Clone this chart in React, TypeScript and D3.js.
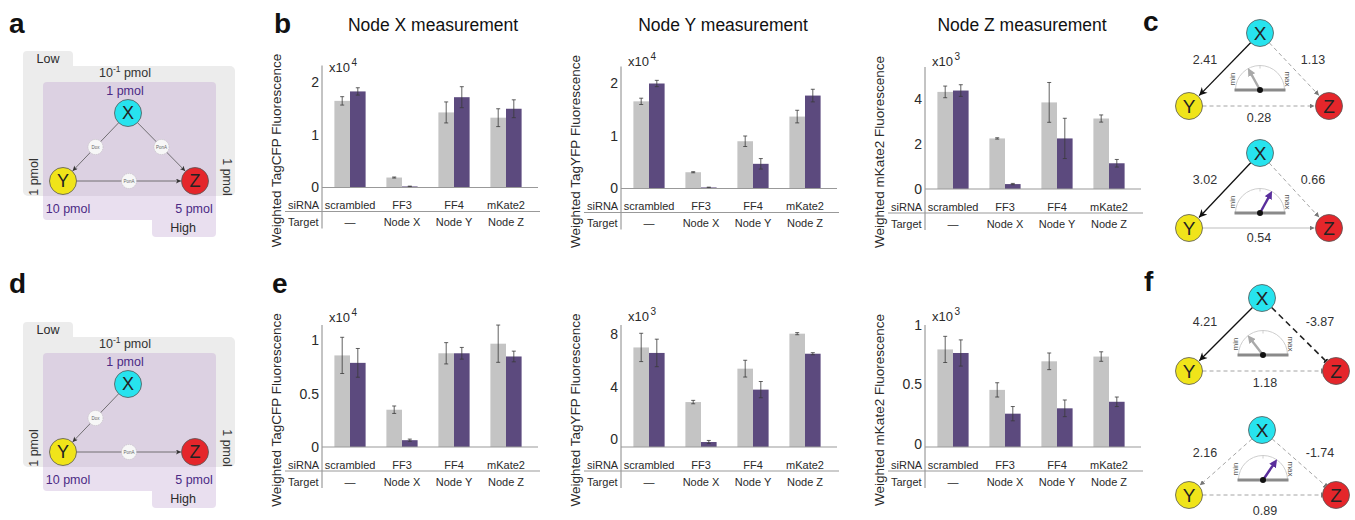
import React from 'react';
import * as d3 from 'd3';

const FONT = '"Liberation Sans", Arial, Helvetica, sans-serif';
const W = 1355;
const H = 520;

// shared categories
const siRNA = ['scrambled', 'FF3', 'FF4', 'mKate2'];
const targets = ['\u2014', 'Node X', 'Node Y', 'Node Z'];
const conditions = ['Low', 'High'];

// b: Node X measurement (x10^4)
const bXLow = [1.65, 0.19, 1.43, 1.33];
const bXLowErr = [0.08, 0.01, 0.2, 0.17];
const bXHigh = [1.83, 0.02, 1.72, 1.5];
const bXHighErr = [0.07, 0.006, 0.2, 0.17];
const bXTicks = [0, 1, 2];

// b: Node Y measurement (x10^4)
const bYLow = [1.66, 0.31, 0.9, 1.37];
const bYLowErr = [0.06, 0.01, 0.1, 0.12];
const bYHigh = [2.0, 0.02, 0.47, 1.77];
const bYHighErr = [0.06, 0.006, 0.1, 0.12];
const bYTicks = [0, 1, 2];

// b: Node Z measurement (x10^3)
const bZLow = [4.34, 2.26, 3.87, 3.15];
const bZLowErr = [0.26, 0.03, 0.89, 0.16];
const bZHigh = [4.4, 0.22, 2.26, 1.15];
const bZHighErr = [0.26, 0.03, 0.9, 0.17];
const bZTicks = [0, 2, 4];

// e: Node X (x10^4)
const eXLow = [0.86, 0.35, 0.88, 0.97];
const eXLowErr = [0.17, 0.035, 0.1, 0.175];
const eXHigh = [0.79, 0.064, 0.88, 0.85];
const eXHighErr = [0.135, 0.01, 0.055, 0.05];
const eXTicks = [0, 0.5, 1];

// e: Node Y (x10^3)
const eYLow = [7.6, 3.43, 5.98, 8.65];
const eYLowErr = [1.08, 0.13, 0.64, 0.08];
const eYHigh = [7.18, 0.38, 4.38, 7.12];
const eYHighErr = [1.05, 0.12, 0.62, 0.08];
const eYTicks = [0, 4, 8];

// e: Node Z (x10^3)
const eZLow = [0.82, 0.48, 0.72, 0.76];
const eZLowErr = [0.11, 0.06, 0.07, 0.04];
const eZHigh = [0.79, 0.28, 0.325, 0.38];
const eZHighErr = [0.11, 0.06, 0.07, 0.04];
const eZTicks = [0, 0.5, 1];

// c / f network weights and dial levels (0 = min, 1 = max)
const cTopWeights = [2.41, 1.13, 0.28];
const cBottomWeights = [3.02, 0.66, 0.54];
const fTopWeights = [4.21, -3.87, 1.18];
const fBottomWeights = [2.16, -1.74, 0.89];
const dialLevels = [0.34, 0.66, 0.29, 0.69];

const GRAY = '#c4c4c4';
const PURPLE = '#5c4a7e';
const TXT = '#2a2a2a';

type Cfg = {
  axisX: number; baseY: number; max: number; topY: number;
  tickDy?: number; expY: number; titleX?: number;
};

function BarPanel(props: {
  cfg: Cfg; low: number[]; lowErr: number[]; high: number[]; highErr: number[];
  ticks: number[]; exp: string; yLabel: string; title?: string;
}) {
  const { cfg, low, lowErr, high, highErr, ticks, exp, yLabel, title } = props;
  const { axisX, baseY, max, topY, tickDy = 0, expY, titleX } = cfg;
  const y = d3.scaleLinear().domain([0, max]).range([baseY, topY]);
  const x0 = d3.scaleBand().domain(siRNA).range([axisX + 2, axisX + 210]).paddingInner(0.4).paddingOuter(0.2);
  const x1 = d3.scaleBand().domain(conditions).range([0, x0.bandwidth()]);
  const series = [
    { key: 'Low', vals: low, errs: lowErr, color: GRAY },
    { key: 'High', vals: high, errs: highErr, color: PURPLE },
  ];
  return (
    <g>
      {title && (
        <text x={titleX} y={31} textAnchor="middle" fontSize={17.5} fill="#111">{title}</text>
      )}
      <text transform={`translate(${axisX - 46},${baseY - 37}) rotate(-90)`} textAnchor="middle"
        dy="0.35em" fontSize={13.5} fill={TXT}>{yLabel}</text>
      <text x={axisX + 7} y={expY} fontSize={13} fill={TXT}>
        x10<tspan dx={1.5} dy={-6} fontSize={10}>{exp}</tspan>
      </text>
      {ticks.map(t => (
        <text key={t} x={axisX - 3} y={y(t) + tickDy} dy="0.35em" textAnchor="end" fontSize={14} fill={TXT}>
          {t}
        </text>
      ))}
      {series.map(s => siRNA.map((c, i) => {
        const bx = (x0(c) as number) + (x1(s.key) as number);
        const bw = x1.bandwidth();
        return (
          <rect key={s.key + c} x={bx} y={y(s.vals[i])} width={bw} height={baseY - y(s.vals[i])} fill={s.color} />
        );
      }))}
      {series.map(s => siRNA.map((c, i) => {
        const cx = (x0(c) as number) + (x1(s.key) as number) + x1.bandwidth() / 2;
        const y1 = y(s.vals[i] - s.errs[i]);
        const y2 = y(s.vals[i] + s.errs[i]);
        return (
          <g key={'e' + s.key + c} stroke="#3a3a3a" strokeWidth={0.8}>
            <line x1={cx} x2={cx} y1={y1} y2={y2} />
            <line x1={cx - 2} x2={cx + 2} y1={y1} y2={y1} />
            <line x1={cx - 2} x2={cx + 2} y1={y2} y2={y2} />
          </g>
        );
      }))}
      <line x1={axisX} x2={axisX} y1={baseY - 122} y2={baseY + 41} stroke="#888" strokeWidth={1} />
      <line x1={axisX} x2={axisX + 216} y1={baseY} y2={baseY} stroke="#999" strokeWidth={1.2} />
      <line x1={axisX - 37} x2={axisX + 218} y1={baseY + 24} y2={baseY + 24} stroke="#999" strokeWidth={1} />
      <text x={axisX - 34} y={baseY + 21.5} fontSize={11} fill={TXT}>siRNA</text>
      <text x={axisX - 34} y={baseY + 38.5} fontSize={11} fill={TXT}>Target</text>
      {siRNA.map((c, i) => (
        <g key={'lab' + c}>
          <text x={(x0(c) as number) + x0.bandwidth() / 2} y={baseY + 21.5} textAnchor="middle" fontSize={11} fill={TXT}>{c}</text>
          <text x={(x0(c) as number) + x0.bandwidth() / 2} y={baseY + 38.5} textAnchor="middle" fontSize={11} fill={TXT}>{targets[i]}</text>
        </g>
      ))}
    </g>
  );
}

function Circuit({ dy, showXZ }: { dy: number; showXZ: boolean }) {
  const X = [128, 113], Y = [63, 181], Z = [195, 181];
  const r = 13.5;
  const edge = (a: number[], b: number[]) => {
    const dx = b[0] - a[0], dyy = b[1] - a[1];
    const L = Math.hypot(dx, dyy);
    const ux = dx / L, uy = dyy / L;
    return { x1: a[0] + ux * r, y1: a[1] + uy * r, x2: b[0] - ux * (r + 0.5), y2: b[1] - uy * (r + 0.5) };
  };
  const mid = (a: number[], b: number[]) => [(a[0] + b[0]) / 2, (a[1] + b[1]) / 2];
  const edges = [
    { a: X, b: Y, lab: 'Dox' },
    ...(showXZ ? [{ a: X, b: Z, lab: 'PonA' }] : []),
    { a: Y, b: Z, lab: 'PonA' },
  ];
  return (
    <g transform={`translate(0,${dy})`}>
      <g fill="#ececec">
        <rect x={23} y={51} width={50} height={22} rx={4} />
        <rect x={23} y={66} width={212} height={130} rx={5} />
      </g>
      <g fill="rgb(185,150,205)" opacity={0.3}>
        <rect x={43} y={82} width={173} height={138} rx={4} />
        <rect x={152} y={214} width={64} height={23} rx={4} />
      </g>
      <text x={48} y={63} textAnchor="middle" fontSize={12.5} fill={TXT}>Low</text>
      <text x={125} y={77} textAnchor="middle" fontSize={12.5} fill="#333">
        10<tspan dy={-5} fontSize={8.5}>-1</tspan><tspan dy={5}> pmol</tspan>
      </text>
      <text x={125} y={95} textAnchor="middle" fontSize={12.5} fill="#4b2a85">1 pmol</text>
      <text transform="translate(34,177) rotate(-90)" textAnchor="middle" dy="0.35em" fontSize={12.5} fill="#333">1 pmol</text>
      <text transform="translate(227,177) rotate(90)" textAnchor="middle" dy="0.35em" fontSize={12.5} fill="#333">1 pmol</text>
      <text x={68} y={213} textAnchor="middle" fontSize={12.5} fill="#4b2a85">10 pmol</text>
      <text x={194} y={213} textAnchor="middle" fontSize={12.5} fill="#4b2a85">5 pmol</text>
      <text x={183} y={232} textAnchor="middle" fontSize={12.5} fill={TXT}>High</text>
      {edges.map((e, i) => {
        const p = edge(e.a, e.b);
        return <line key={i} {...p} stroke="#555" strokeWidth={0.8} markerEnd="url(#arrA)" />;
      })}
      {edges.map((e, i) => {
        const m = mid(e.a, e.b);
        return (
          <g key={'m' + i}>
            <circle cx={m[0]} cy={m[1]} r={7.5} fill="#f7f7f7" stroke="#bbb" strokeWidth={0.6} strokeDasharray="1,1" />
            <text x={m[0]} y={m[1]} dy="0.35em" textAnchor="middle" fontSize={4.5} fill="#666">{e.lab}</text>
          </g>
        );
      })}
      {[{ p: X, c: '#27e3ee', l: 'X' }, { p: Y, c: '#f0e41a', l: 'Y' }, { p: Z, c: '#e5262b', l: 'Z' }].map(n => (
        <g key={n.l}>
          <circle cx={n.p[0]} cy={n.p[1]} r={r} fill={n.c} stroke="#555" strokeWidth={0.8} />
          <text x={n.p[0]} y={n.p[1]} dy="0.36em" textAnchor="middle" fontSize={18} fill="#222">{n.l}</text>
        </g>
      ))}
    </g>
  );
}

type Pt = [number, number];
const EDGE_STYLE: Record<string, any> = {
  black: { stroke: '#111', strokeWidth: 1.3, markerEnd: 'url(#arrBlack)' },
  dashGrayArrow: { stroke: '#9a9a9a', strokeWidth: 0.9, strokeDasharray: '4,3', markerEnd: 'url(#arrGray)' },
  dashGrayBar: { stroke: '#9a9a9a', strokeWidth: 0.9, strokeDasharray: '4,3', markerEnd: 'url(#barGray)' },
  solidGray: { stroke: '#bdbdbd', strokeWidth: 1, markerEnd: 'url(#arrGray)' },
  dashBlackBar: { stroke: '#222', strokeWidth: 1.6, strokeDasharray: '6,4', markerEnd: 'url(#barBlack)' },
};

const dialAngle = d3.scaleLinear().domain([0, 1]).range([Math.PI, 0]);

function Net(props: {
  X: Pt; Y: Pt; Z: Pt; dial: Pt; wPos: Pt[]; weights: number[]; styles: string[];
  level: number; needle: string;
}) {
  const { X, Y, Z, dial, wPos, weights, styles, level, needle } = props;
  const r = 13.5;
  const seg = (a: Pt, b: Pt) => {
    const dx = b[0] - a[0], dy = b[1] - a[1];
    const L = Math.hypot(dx, dy);
    const ux = dx / L, uy = dy / L;
    return { x1: a[0] + ux * r, y1: a[1] + uy * r, x2: b[0] - ux * (r + 1), y2: b[1] - uy * (r + 1) };
  };
  const pairs: [Pt, Pt][] = [[X, Y], [X, Z], [Y, Z]];
  const R = 24.5;
  const ang = dialAngle(level);
  const nx = dial[0] + 21 * Math.cos(ang);
  const ny = dial[1] - 21 * Math.sin(ang);
  return (
    <g>
      {pairs.map((p, i) => <line key={i} {...seg(p[0], p[1])} {...EDGE_STYLE[styles[i]]} />)}
      {weights.map((w, i) => (
        <text key={'w' + i} x={wPos[i][0]} y={wPos[i][1]} dy="0.35em" textAnchor="middle" fontSize={12.5} fill="#333">
          {w.toFixed(2)}
        </text>
      ))}
      <path d={`M${dial[0] - R},${dial[1]} A${R},${R} 0 0 1 ${dial[0] + R},${dial[1]}`} fill="#fff" stroke="#c8c8c8" strokeWidth={0.9} />
      <line x1={dial[0]} x2={dial[0]} y1={dial[1] - R} y2={dial[1] - R + 3} stroke="#c8c8c8" strokeWidth={0.9} />
      <line x1={dial[0] - R - 1} x2={dial[0] + R + 1} y1={dial[1]} y2={dial[1]} stroke="#8a8a8a" strokeWidth={3} />
      <line x1={dial[0]} y1={dial[1]} x2={nx} y2={ny} stroke={needle} strokeWidth={2.4}
        markerEnd={needle === '#a9a9a9' ? 'url(#needleGray)' : 'url(#needlePurple)'} />
      <circle cx={dial[0]} cy={dial[1]} r={3} fill="#111" />
      <text transform={`translate(${dial[0] - 28},${dial[1] - 11}) rotate(-90)`} textAnchor="middle" dy="0.35em" fontSize={8} fill="#555">min</text>
      <text transform={`translate(${dial[0] + 28},${dial[1] - 11}) rotate(90)`} textAnchor="middle" dy="0.35em" fontSize={8} fill="#555">max</text>
      {[{ p: X, c: '#27e3ee', l: 'X' }, { p: Y, c: '#f0e41a', l: 'Y' }, { p: Z, c: '#e5262b', l: 'Z' }].map(n => (
        <g key={n.l}>
          <circle cx={n.p[0]} cy={n.p[1]} r={r} fill={n.c} stroke="#555" strokeWidth={0.8} />
          <text x={n.p[0]} y={n.p[1]} dy="0.36em" textAnchor="middle" fontSize={19} fill="#222">{n.l}</text>
        </g>
      ))}
    </g>
  );
}

function Defs() {
  return (
    <defs>
      <marker id="arrA" viewBox="0 0 10 10" refX={10} refY={5} markerWidth={6} markerHeight={5} markerUnits="userSpaceOnUse" orient="auto">
        <path d="M0,0 L10,5 L0,10 L2.5,5 z" fill="#333" />
      </marker>
      <marker id="arrBlack" viewBox="0 0 10 10" refX={10} refY={5} markerWidth={10} markerHeight={8} markerUnits="userSpaceOnUse" orient="auto">
        <path d="M0,0 L10,5 L0,10 L3,5 z" fill="#111" />
      </marker>
      <marker id="arrGray" viewBox="0 0 10 10" refX={10} refY={5} markerWidth={5} markerHeight={5} markerUnits="userSpaceOnUse" orient="auto">
        <path d="M0,0 L10,5 L0,10 z" fill="#777" />
      </marker>
      <marker id="barGray" viewBox="0 0 4 10" refX={2} refY={5} markerWidth={2} markerHeight={7} markerUnits="userSpaceOnUse" orient="auto">
        <rect x={0} y={0} width={4} height={10} fill="#777" />
      </marker>
      <marker id="barBlack" viewBox="0 0 4 10" refX={2} refY={5} markerWidth={2} markerHeight={8} markerUnits="userSpaceOnUse" orient="auto">
        <rect x={0} y={0} width={4} height={10} fill="#222" />
      </marker>
      <marker id="needleGray" viewBox="0 0 10 10" refX={5} refY={5} markerWidth={8} markerHeight={8} markerUnits="userSpaceOnUse" orient="auto">
        <path d="M0,0 L10,5 L0,10 z" fill="#a9a9a9" />
      </marker>
      <marker id="needlePurple" viewBox="0 0 10 10" refX={5} refY={5} markerWidth={8} markerHeight={8} markerUnits="userSpaceOnUse" orient="auto">
        <path d="M0,0 L10,5 L0,10 z" fill="#5a2e9c" />
      </marker>
    </defs>
  );
}

const Label = ({ x, y, t }: { x: number; y: number; t: string }) => (
  <text x={x} y={y} fontSize={28} fontWeight="bold" fill="#111">{t}</text>
);

export default function App() {
  return (
    <div style={{ position: 'absolute', left: 0, top: 0, width: W, height: H, background: '#fff' }}>
      <svg width={W} height={H} style={{ display: 'block', fontFamily: FONT }}>
        <Defs />
        <Label x={9} y={33} t="a" />
        <Label x={274} y={33} t="b" />
        <Label x={1143} y={31} t="c" />
        <Label x={9} y={293} t="d" />
        <Label x={272} y={293} t="e" />
        <Label x={1144} y={291} t="f" />

        <Circuit dy={0} showXZ={true} />
        <Circuit dy={271} showXZ={false} />

        <BarPanel cfg={{ axisX: 322, baseY: 187.5, max: 2, topY: 82.5, expY: 72, titleX: 433 }}
          low={bXLow} lowErr={bXLowErr} high={bXHigh} highErr={bXHighErr} ticks={bXTicks} exp="4"
          yLabel="Weighted TagCFP Fluorescence" title="Node X measurement" />
        <BarPanel cfg={{ axisX: 621, baseY: 188.5, max: 2, topY: 83.5, expY: 66, titleX: 723 }}
          low={bYLow} lowErr={bYLowErr} high={bYHigh} highErr={bYHighErr} ticks={bYTicks} exp="4"
          yLabel="Weighted TagYFP Fluorescence" title="Node Y measurement" />
        <BarPanel cfg={{ axisX: 925, baseY: 189, max: 4, topY: 99.5, expY: 66, titleX: 1022 }}
          low={bZLow} lowErr={bZLowErr} high={bZHigh} highErr={bZHighErr} ticks={bZTicks} exp="3"
          yLabel="Weighted mKate2 Fluorescence" title="Node Z measurement" />

        <BarPanel cfg={{ axisX: 322, baseY: 447, max: 1, topY: 340.5, expY: 322 }}
          low={eXLow} lowErr={eXLowErr} high={eXHigh} highErr={eXHighErr} ticks={eXTicks} exp="4"
          yLabel="Weighted TagCFP Fluorescence" />
        <BarPanel cfg={{ axisX: 621, baseY: 447, max: 8, topY: 342.2, tickDy: -8, expY: 321 }}
          low={eYLow} lowErr={eYLowErr} high={eYHigh} highErr={eYHighErr} ticks={eYTicks} exp="3"
          yLabel="Weighted TagYFP Fluorescence" />
        <BarPanel cfg={{ axisX: 925, baseY: 447, max: 1, topY: 328, tickDy: -3, expY: 321 }}
          low={eZLow} lowErr={eZLowErr} high={eZHigh} highErr={eZHighErr} ticks={eZTicks} exp="3"
          yLabel="Weighted mKate2 Fluorescence" />

        <Net X={[1260, 33]} Y={[1189, 106]} Z={[1329, 106]} dial={[1260, 90]}
          wPos={[[1205, 60], [1313, 60], [1259, 118]]} weights={cTopWeights}
          styles={['black', 'dashGrayArrow', 'dashGrayArrow']} level={dialLevels[0]} needle="#a9a9a9" />
        <Net X={[1260, 153]} Y={[1189, 228]} Z={[1329, 228]} dial={[1260, 213]}
          wPos={[[1205, 180], [1313, 180], [1259, 238]]} weights={cBottomWeights}
          styles={['black', 'dashGrayArrow', 'solidGray']} level={dialLevels[1]} needle="#5a2e9c" />
        <Net X={[1262, 298]} Y={[1189, 371]} Z={[1336, 371]} dial={[1263, 355]}
          wPos={[[1205, 322], [1320, 322], [1265, 383]]} weights={fTopWeights}
          styles={['black', 'dashBlackBar', 'dashGrayBar']} level={dialLevels[2]} needle="#a9a9a9" />
        <Net X={[1262, 430]} Y={[1189, 495]} Z={[1336, 495]} dial={[1263, 480]}
          wPos={[[1205, 453], [1320, 453], [1265, 511]]} weights={fBottomWeights}
          styles={['dashGrayArrow', 'dashGrayBar', 'dashGrayBar']} level={dialLevels[3]} needle="#5a2e9c" />
      </svg>
    </div>
  );
}
